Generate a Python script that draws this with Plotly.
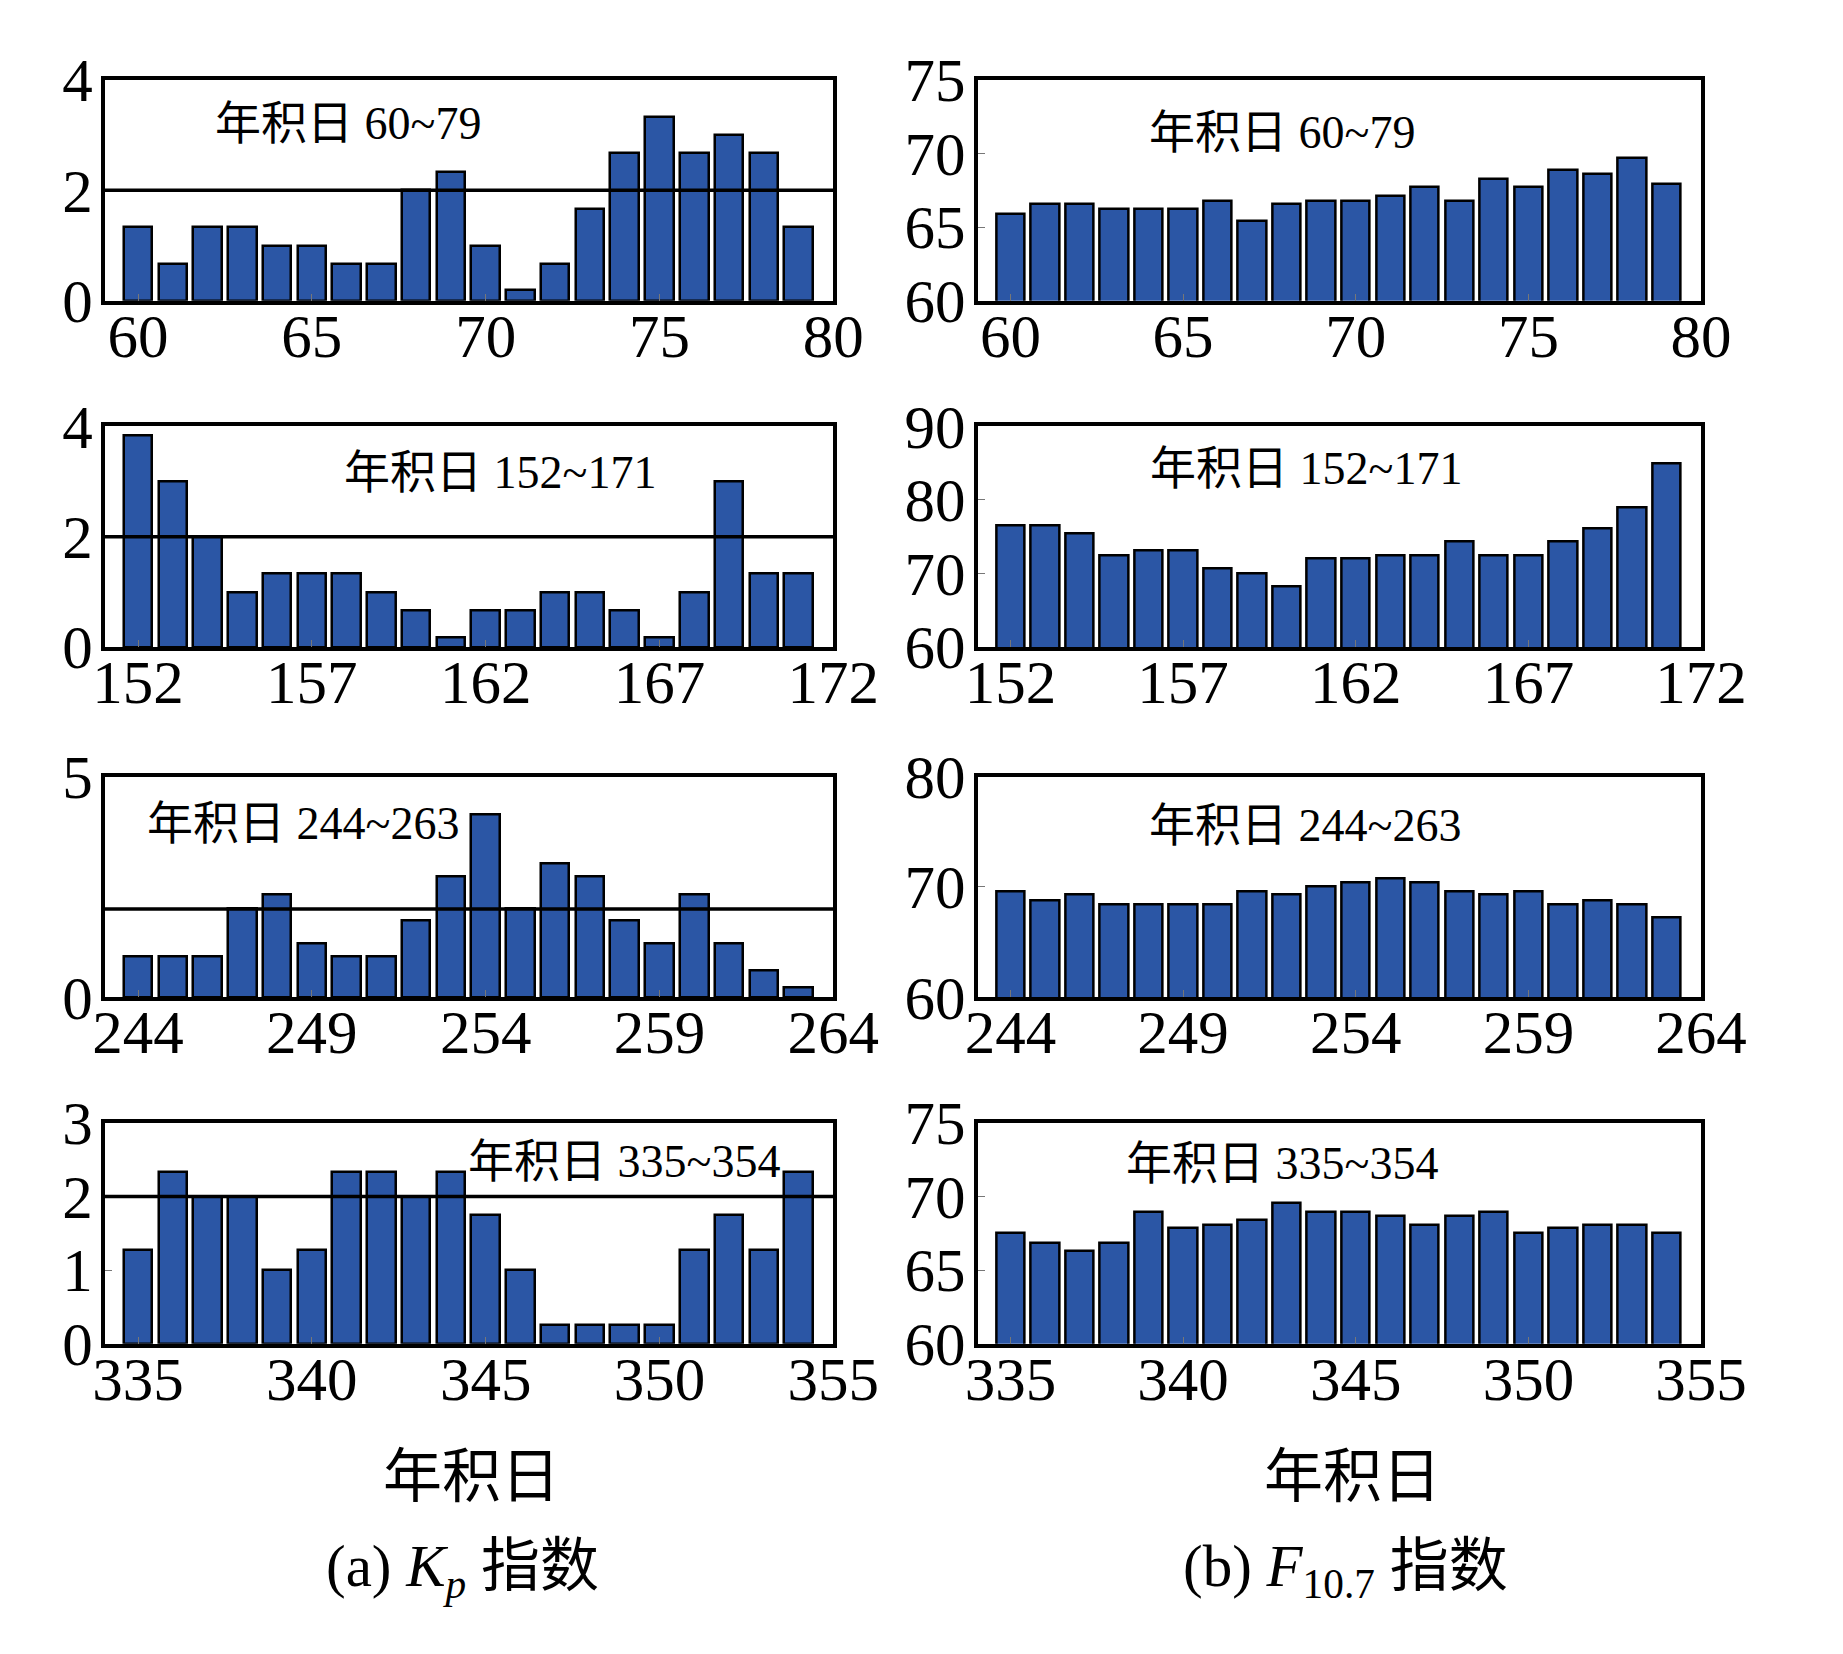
import plotly.graph_objects as go

# day-of-year windows
kp_days = [60, 152, 244, 335]

# daily Kp
kp_1 = [1.33, 0.67, 1.33, 1.33, 1.0, 1.0, 0.67, 0.67, 2.0, 2.33,
        1.0, 0.2, 0.67, 1.67, 2.67, 3.33, 2.67, 3.0, 2.67, 1.33]
kp_2 = [3.83, 3.0, 2.0, 1.0, 1.33, 1.33, 1.33, 1.0, 0.67, 0.17,
        0.67, 0.67, 1.0, 1.0, 0.67, 0.17, 1.0, 3.0, 1.33, 1.33]
kp_3 = [0.92, 0.92, 0.92, 2.0, 2.33, 1.21, 0.92, 0.92, 1.73, 2.74,
        4.15, 2.0, 3.03, 2.74, 1.73, 1.21, 2.33, 1.21, 0.6, 0.22]
kp_4 = [1.27, 2.33, 2.0, 2.0, 1.0, 1.27, 2.33, 2.33, 2.0, 2.33,
        1.75, 1.0, 0.25, 0.25, 0.25, 0.25, 1.27, 1.75, 1.27, 2.33]

# daily F10.7
f_1 = [65.9, 66.55, 66.55, 66.2, 66.2, 66.2, 66.8, 65.4, 66.55, 66.8,
       66.8, 67.1, 67.7, 66.8, 68.3, 67.7, 68.85, 68.6, 69.7, 67.9]
f_2 = [76.6, 76.6, 75.4, 72.5, 73.2, 73.2, 70.7, 70.0, 68.3, 72.0,
       72.0, 72.5, 72.5, 74.3, 72.5, 72.5, 74.3, 76.1, 79.0, 85.0]
f_3 = [69.6, 68.8, 69.3, 68.4, 68.4, 68.4, 68.4, 69.6, 69.3, 70.0,
       70.4, 70.8, 70.4, 69.6, 69.3, 69.6, 68.4, 68.8, 68.4, 67.2]
f_4 = [67.5, 66.85, 66.3, 66.85, 68.96, 67.83, 68.1, 68.4, 69.57, 68.96,
       68.96, 68.65, 68.1, 68.65, 68.96, 67.5, 67.83, 68.1, 68.1, 67.5]

kp_series = [kp_1, kp_2, kp_3, kp_4]
f_series = [f_1, f_2, f_3, f_4]

kp_yrange = [[0, 4], [0, 4], [0, 5], [0, 3]]
kp_yticks = [[0, 2, 4], [0, 2, 4], [0, 5], [0, 1, 2, 3]]
f_yrange = [[60, 75], [60, 90], [60, 80], [60, 75]]
f_yticks = [[60, 65, 70, 75], [60, 70, 80, 90], [60, 70, 80], [60, 65, 70, 75]]
kp_thresh = 2

W, H = 1843, 1654


def px(x):
    return x / W


def py(y):
    return 1 - y / H


rows_px = [(49, 279), (410, 640), (775, 1005), (1136, 1366)]
left_px = (96, 848)
right_px = (997, 1744)

bar_color = "#2b56a5"
serif = "Liberation Serif, Times New Roman, Noto Sans CJK SC"
cjk = "Noto Sans CJK SC, Liberation Serif"

fig = go.Figure()
layout = {}
n = 0
for r in range(4):
    start = kp_days[r]
    days = list(range(start, start + 20))
    for col in range(2):
        n += 1
        s = "" if n == 1 else str(n)
        if col == 0:
            vals, yr, yt, xp = kp_series[r], kp_yrange[r], kp_yticks[r], left_px
        else:
            vals, yr, yt, xp = f_series[r], f_yrange[r], f_yticks[r], right_px
        fig.add_trace(go.Bar(
            x=days, y=vals, width=0.82,
            marker=dict(color=bar_color, line=dict(color="black", width=2.5)),
            xaxis="x" + s, yaxis="y" + s, showlegend=False,
        ))
        ax = dict(
            domain=[px(xp[0]), px(xp[1])],
            anchor="y" + s,
            range=[start - 0.95, start + 20],
            tickvals=list(range(start, start + 21, 5)),
            showline=True, mirror=True, linecolor="black", linewidth=4,
            ticks="inside", ticklen=7, tickwidth=1, tickcolor="#777",
            ticklabelstandoff=-21,
            showgrid=False, zeroline=False,
            tickfont=dict(family=serif, size=61, color="black"),
        )
        ay = dict(
            domain=[py(rows_px[r][1]), py(rows_px[r][0])],
            anchor="x" + s,
            range=yr, tickvals=yt,
            showline=True, mirror=True, linecolor="black", linewidth=4,
            ticks="inside", ticklen=7, tickwidth=1, tickcolor="#777",
            ticklabelstandoff=-4,
            showgrid=False, zeroline=False,
            tickfont=dict(family=serif, size=61, color="black"),
        )
        layout["xaxis" + s] = ax
        layout["yaxis" + s] = ay
        if col == 0:
            fig.add_shape(type="line", xref="x" + s + " domain", yref="y" + s,
                          x0=0, x1=1, y0=kp_thresh, y1=kp_thresh,
                          line=dict(color="black", width=3.5))

fig.update_layout(**layout)

# window labels inside each panel (centre x, centre y in pixels)
win_labels = ["年积日 60~79", "年积日 152~171", "年积日 244~263", "年积日 335~354"]
label_pos = [[(347, 94), (1311, 104)],
             [(504, 458), (1336, 454)],
             [(300, 824), (1335, 826)],
             [(632, 1176), (1311, 1178)]]
for r in range(4):
    for col in range(2):
        cx, cy = label_pos[r][col]
        fig.add_annotation(x=px(cx), y=py(cy), xref="paper", yref="paper",
                           xanchor="center", yanchor="middle",
                           text=win_labels[r], showarrow=False,
                           font=dict(family=serif, size=46, color="black"))

# column x-labels and captions
xlab_x = [474, 1384]
cap_x = [465, 1377]
captions = ["(a) <i>K<sub>p</sub></i> 指数", "(b) <i>F</i><sub>10.7</sub> 指数"]
for c in range(2):
    fig.add_annotation(x=px(xlab_x[c]), y=py(1499), xref="paper", yref="paper",
                       xanchor="center", yanchor="middle",
                       text="年积日", showarrow=False,
                       font=dict(family=cjk, size=59, color="black"))
    fig.add_annotation(x=px(cap_x[c]), y=py(1602), xref="paper", yref="paper",
                       xanchor="center", yanchor="middle",
                       text=captions[c], showarrow=False,
                       font=dict(family=serif, size=59, color="black"))

fig.update_layout(
    width=W, height=H,
    margin=dict(l=0, r=0, t=0, b=0),
    paper_bgcolor="white", plot_bgcolor="white",
    bargap=0,
)

fig.write_html("out.html",
               config={"displayModeBar": False},
               post_script="document.body.style.margin='0';"
                           "document.body.style.overflow='hidden';")
